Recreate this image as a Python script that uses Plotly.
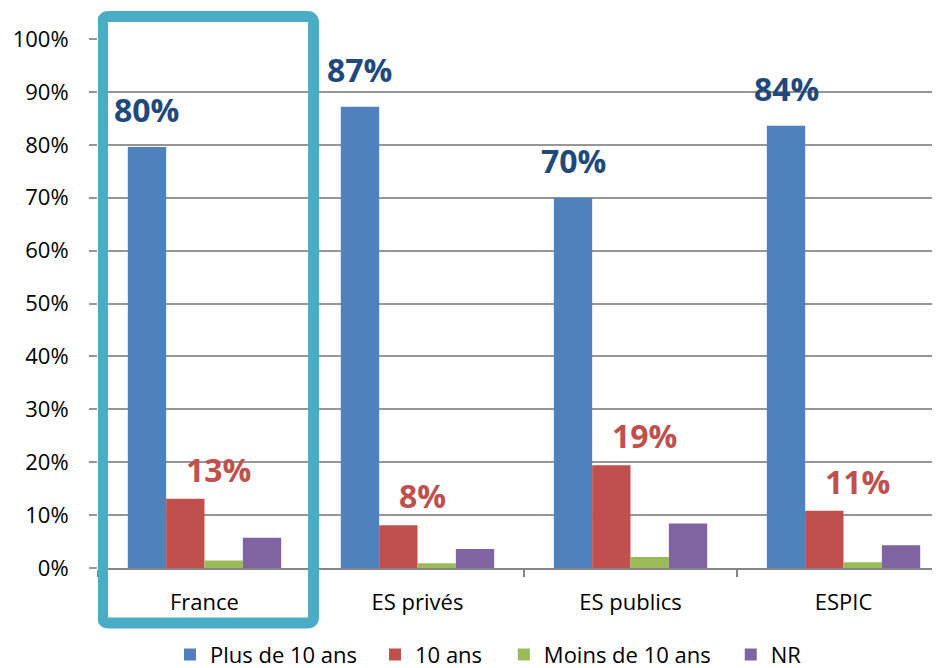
import plotly.graph_objects as go

categories = ["France", "ES privés", "ES publics", "ESPIC"]
plus_10 = [0.796, 0.872, 0.700, 0.836]
dix_ans = [0.131, 0.081, 0.194, 0.108]
moins_10 = [0.014, 0.009, 0.021, 0.011]
nr = [0.057, 0.036, 0.084, 0.043]
series_names = ["Plus de 10 ans", "10 ans", "Moins de 10 ans", "NR"]
y_ticks = [0, 0.1, 0.2, 0.3, 0.4, 0.5, 0.6, 0.7, 0.8, 0.9, 1.0]
y_tick_labels = ["0%", "10%", "20%", "30%", "40%", "50%", "60%", "70%", "80%", "90%", "100%"]

colors = ["#4F81BD", "#C0504D", "#9BBB59", "#8064A2"]
FONT = "Open Sans"

legend_ids = ["legend", "legend2", "legend3", "legend4"]
legend_x = [0.0855, 0.329, 0.482, 0.7515]

fig = go.Figure()
for name, vals, col, lid in zip(series_names, [plus_10, dix_ans, moins_10, nr], colors, legend_ids):
    fig.add_trace(go.Bar(x=categories, y=vals, name=name, legend=lid,
                         marker=dict(color=col, line=dict(width=0))))

annotations = []
for i, v in enumerate(plus_10):
    annotations.append(dict(x=i - 0.27, y=v, xref="x", yref="y", text=f"<b>{round(v*100)}%</b>",
                            showarrow=False, xanchor="center", yanchor="bottom", yshift=14,
                            font=dict(family=FONT, size=32, color="#1F497D")))
for i, v in enumerate(dix_ans):
    annotations.append(dict(x=i - 0.098, y=v, xref="x", yref="y", text=f"<b>{round(v*100)}%</b>",
                            showarrow=False, xanchor="left", yanchor="bottom", yshift=6,
                            font=dict(family=FONT, size=32, color="#C0504D")))

# highlight frame around France group
x0, x1 = -0.479, 0.512
y0, y1 = -0.104, 1.0425
rx, ry = 0.03, 0.012
path = (f"M {x0+rx} {y1} L {x1-rx} {y1} Q {x1} {y1} {x1} {y1-ry} "
        f"L {x1} {y0+ry} Q {x1} {y0} {x1-rx} {y0} L {x0+rx} {y0} Q {x0} {y0} {x0} {y0+ry} "
        f"L {x0} {y1-ry} Q {x0} {y1} {x0+rx} {y1} Z")

legend_common = dict(orientation="h", xanchor="left", y=-0.164, yanchor="middle",
                     font=dict(family=FONT, size=22, color="black"), itemwidth=30,
                     bgcolor="rgba(0,0,0,0)", borderwidth=0)

layout_legends = {lid: dict(legend_common, x=lx) for lid, lx in zip(legend_ids, legend_x)}

fig.update_layout(
    width=932, height=660,
    margin=dict(l=90, r=0, t=30.5, b=100, autoexpand=False),
    paper_bgcolor="white", plot_bgcolor="white",
    barmode="group", bargap=0.28, bargroupgap=0,
    font=dict(family=FONT, size=22, color="black"),
    showlegend=True,
    annotations=annotations,
    shapes=[dict(type="path", path=path, xref="x", yref="paper",
                 line=dict(color="#4BACC6", width=11), fillcolor="rgba(0,0,0,0)", layer="above")],
    xaxis=dict(range=[-0.5, 3.453], showgrid=False, showline=True, linecolor="#868686", linewidth=1.5,
               ticks="outside", tickson="boundaries", ticklen=7, tickcolor="#868686", tickwidth=1.5,
               tickfont=dict(family=FONT, size=22, color="black"), ticklabelstandoff=14,
               automargin=False),
    yaxis=dict(range=[0, 1.0], tickvals=y_ticks, ticktext=y_tick_labels, showgrid=True,
               gridcolor="#969696", gridwidth=1.5, showline=False, zeroline=False,
               ticks="outside", ticklen=8, tickcolor="#969696", tickwidth=1.5,
               tickfont=dict(family=FONT, size=22, color="black"), ticklabelstandoff=16,
               automargin=False),
    **layout_legends,
)

fig.write_html("out.html")
